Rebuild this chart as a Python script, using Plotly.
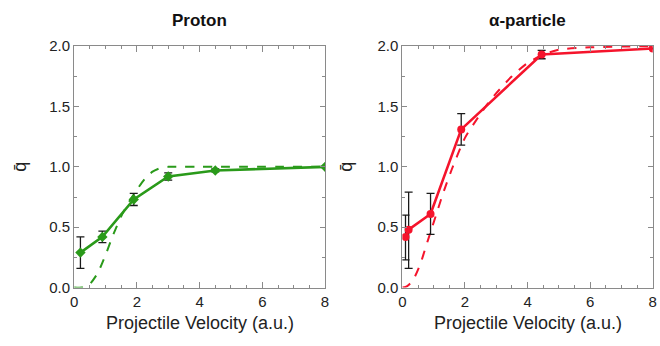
import plotly.graph_objects as go
from plotly.subplots import make_subplots

# Proton data
p_x = [0.2, 0.9, 1.9, 3.0, 4.5, 8.0]
p_y = [0.29, 0.42, 0.73, 0.92, 0.97, 1.0]
p_err = [0.13, 0.047, 0.05, 0.03, 0.012, 0.0]
p_theory_x = [0, 0.25, 0.5, 0.75, 1.0, 1.25, 1.5, 1.75, 2.0, 2.25, 2.5, 2.75, 3.0, 3.5, 4.0, 8.0]
p_theory_y = [0, 0.0, 0.03, 0.12, 0.27, 0.44, 0.59, 0.71, 0.81, 0.90, 0.96, 0.99, 1.0, 1.0, 1.0, 1.0]

# Alpha-particle data
a_x = [0.1, 0.2, 0.9, 1.88, 4.45, 8.0]
a_y = [0.42, 0.48, 0.61, 1.31, 1.93, 1.98]
a_err_plus = [0.18, 0.31, 0.17, 0.13, 0.035, 0.0]
a_err_minus = [0.19, 0.32, 0.17, 0.13, 0.035, 0.0]
a_theory_x = [0, 0.1, 0.21, 0.37, 0.58, 0.74, 0.9, 1.1, 1.3, 1.58, 2.0, 2.5, 2.75, 3.0, 3.5, 4.0, 4.5, 5.0, 6.0, 8.0]
a_theory_y = [0, 0.005, 0.024, 0.076, 0.2, 0.33, 0.46, 0.62, 0.78, 0.98, 1.24, 1.44, 1.53, 1.61, 1.75, 1.86, 1.93, 1.97, 1.99, 2.0]

titles = ["Proton", "α-particle"]
x_ticks = [0, 2, 4, 6, 8]
y_ticks = [0.0, 0.5, 1.0, 1.5, 2.0]

GREEN = "#2a9a1a"
RED = "#f5142c"

fig = make_subplots(rows=1, cols=2)

fig.add_trace(go.Scatter(x=p_theory_x, y=p_theory_y, mode="lines", line=dict(color=GREEN, width=2, dash="dash", shape="spline", smoothing=0.6), showlegend=False), 1, 1)
fig.add_trace(go.Scatter(x=p_x, y=p_y, mode="lines+markers", line=dict(color=GREEN, width=2.6),
                         marker=dict(symbol="diamond", size=8, color=GREEN),
                         error_y=dict(type="data", array=p_err, color="#1a1a1a", thickness=1.3, width=4),
                         showlegend=False), 1, 1)

fig.add_trace(go.Scatter(x=a_theory_x, y=a_theory_y, mode="lines", line=dict(color=RED, width=2, dash="dash", shape="spline", smoothing=0.6), showlegend=False), 1, 2)
fig.add_trace(go.Scatter(x=a_x, y=a_y, mode="lines+markers", line=dict(color=RED, width=2.6),
                         marker=dict(symbol="circle", size=8, color=RED),
                         error_y=dict(type="data", symmetric=False, array=a_err_plus, arrayminus=a_err_minus,
                                      color="#1a1a1a", thickness=1.3, width=4),
                         showlegend=False), 1, 2)

axis_common = dict(showline=True, linecolor="#8a8a8a", linewidth=1, mirror="allticks",
                   ticks="inside", tickcolor="#8a8a8a", showgrid=False, zeroline=False,
                   tickfont=dict(family="Liberation Sans, Arial", size=15, color="#222"))

for i, dom in enumerate([(0.1076, 0.4924), (0.611, 0.995)]):
    fig.update_xaxes(row=1, col=i + 1, domain=list(dom), range=[0, 8], tickvals=x_ticks, ticklen=6,
                     minor=dict(dtick=0.5, ticks="inside", ticklen=3, tickcolor="#8a8a8a"), **axis_common)
    fig.update_yaxes(row=1, col=i + 1, domain=[0.1532, 0.8873], range=[0, 2], tickvals=y_ticks,
                     tickformat=".1f", ticklen=5,
                     minor=dict(dtick=0.25, ticks="inside", ticklen=3, tickcolor="#8a8a8a"), **axis_common)

annotations = []
centers = [(0.1076 + 0.4924) / 2, (0.611 + 0.995) / 2]
ytitle_x = [16 / 660, 346 / 660]
for i in range(2):
    annotations.append(dict(text="<b>%s</b>" % titles[i], x=centers[i], y=1 - 12 / 346, xref="paper", yref="paper",
                            showarrow=False, xanchor="center", yanchor="middle",
                            font=dict(family="Liberation Sans, Arial", size=17, color="#111")))
    annotations.append(dict(text="Projectile Velocity (a.u.)", x=centers[i], y=1 - 330 / 346, xref="paper", yref="paper",
                            showarrow=False, xanchor="center", yanchor="middle",
                            font=dict(family="Liberation Sans, Arial", size=18, color="#222")))
    annotations.append(dict(text="q\u0304", x=ytitle_x[i], y=1 - 166 / 346, xref="paper", yref="paper",
                            showarrow=False, xanchor="center", yanchor="middle", textangle=-90,
                            font=dict(family="Liberation Sans, Arial", size=18, color="#222")))

fig.update_layout(width=660, height=346, margin=dict(l=0, r=0, t=0, b=0),
                  paper_bgcolor="white", plot_bgcolor="white", annotations=annotations)

fig.write_html("out.html")
